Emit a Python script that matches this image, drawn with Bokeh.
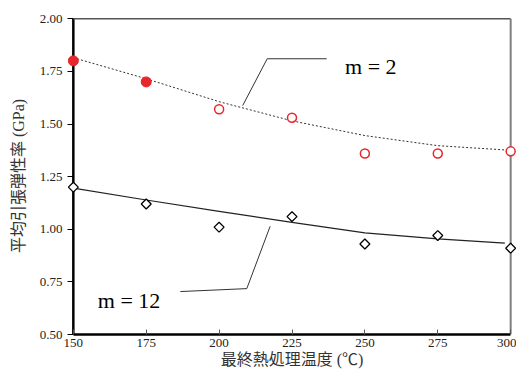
from bokeh.plotting import figure
from bokeh.models import Range1d, FixedTicker, Label, NumeralTickFormatter
from bokeh.embed import file_html
from bokeh.resources import INLINE

# ---- data ----
temps = [150, 175, 200, 225, 250, 275, 300]
m2_filled_x = [150, 175]
m2_filled_y = [1.80, 1.70]
m2_open_x = [200, 225, 250, 275, 300]
m2_open_y = [1.57, 1.53, 1.36, 1.36, 1.37]
m12_y = [1.20, 1.12, 1.01, 1.06, 0.93, 0.97, 0.91]

fit_x = [150, 175, 200, 225, 250, 275, 298]
fit_m2 = [1.815, 1.715, 1.606, 1.515, 1.445, 1.397, 1.377]
fit_m12 = [1.195, 1.139, 1.085, 1.033, 0.983, 0.954, 0.934]

x_ticks = [150, 175, 200, 225, 250, 275, 300]
y_ticks = [0.50, 0.75, 1.00, 1.25, 1.50, 1.75, 2.00]

x_label = "最終熱処理温度 (℃)"
y_label = "平均引張弾性率 (GPa)"
label_m2 = "m = 2"
label_m12 = "m = 12"

X0, X1 = 150, 300
Y0, Y1 = 0.50, 2.00

# ---- figure ----
p = figure(width=516, height=370, output_backend="svg", toolbar_location=None,
           x_range=Range1d(148, 302), y_range=Range1d(0.5, 2.006),
           min_border_left=67, min_border_right=0, min_border_top=17,
           min_border_bottom=0)
p.xgrid.visible = False
p.ygrid.visible = False
p.background_fill_color = "white"
p.border_fill_color = "white"
p.outline_line_color = None

serif = "'Liberation Serif'"
mixed = "'Liberation Serif', 'Noto Sans CJK JP'"

xax = p.xaxis[0]
yax = p.yaxis[0]
xax.ticker = FixedTicker(ticks=x_ticks)
yax.ticker = FixedTicker(ticks=y_ticks)
yax.formatter = NumeralTickFormatter(format="0.00")
xax.bounds = (X0, X1)
yax.bounds = (Y0, Y1)
for ax in (xax, yax):
    ax.major_label_text_font = serif
    ax.major_label_text_font_size = "13px"
    ax.major_label_text_font_style = "normal"
    ax.major_label_text_color = "#222222"
    ax.minor_tick_line_color = None
    ax.axis_label_text_font = mixed
    ax.axis_label_text_font_style = "normal"
    ax.axis_label_text_font_size = "16px"
    ax.axis_label_text_color = "#333333"
    ax.major_tick_line_width = 1

xax.axis_line_color = "black"
xax.axis_line_width = 2.5
xax.major_tick_in = 5
xax.major_tick_out = 0
xax.major_tick_line_color = "#555555"
xax.major_label_standoff = 4
xax.axis_label_standoff = 1
xax.axis_label = x_label

yax.axis_line_color = None
yax.major_tick_in = 6
yax.major_tick_out = 0
yax.major_tick_line_color = "black"
yax.major_label_standoff = 5
yax.axis_label_standoff = 10
yax.axis_label = y_label

# plot-area frame: left axis line, top and right border
p.line([X0, X0], [Y0, Y1], line_color="black", line_width=2.5)
p.line([X0, X1], [Y1, Y1], line_color="#555555", line_width=1.5)
p.line([X1, X1], [Y0, Y1], line_color="#7f7f7f", line_width=2)

# fit curves
p.line(fit_x, fit_m2, line_color="#333333", line_width=1, line_dash="2 2")
p.line(fit_x, fit_m12, line_color="#222222", line_width=1.2)

# leader lines (annotation)
p.line([236.9, 216.5, 208.1], [1.810, 1.810, 1.588], line_color="#333333", line_width=1)
p.line([186.7, 209.5, 217.5], [0.704, 0.718, 1.014], line_color="#333333", line_width=1)

# markers
red = "#e8262b"
p.scatter(m2_filled_x, m2_filled_y, marker="circle", size=10, fill_color=red,
          line_color=red)
p.scatter(m2_open_x, m2_open_y, marker="circle", size=9, fill_color="white",
          line_color=red, line_width=1.5)
p.scatter(temps, m12_y, marker="square", size=7, angle=0.785398,
          fill_color="white", line_color="black", line_width=1.3)

p.add_layout(Label(x=243.2, y=1.773, text=label_m2, text_font=serif,
                   text_font_size="22px", text_color="black",
                   text_baseline="alphabetic"))
p.add_layout(Label(x=158.4, y=0.662, text=label_m12, text_font=serif,
                   text_font_size="22px", text_color="black",
                   text_baseline="alphabetic"))

open("out.html", "w").write(file_html(p, INLINE))
